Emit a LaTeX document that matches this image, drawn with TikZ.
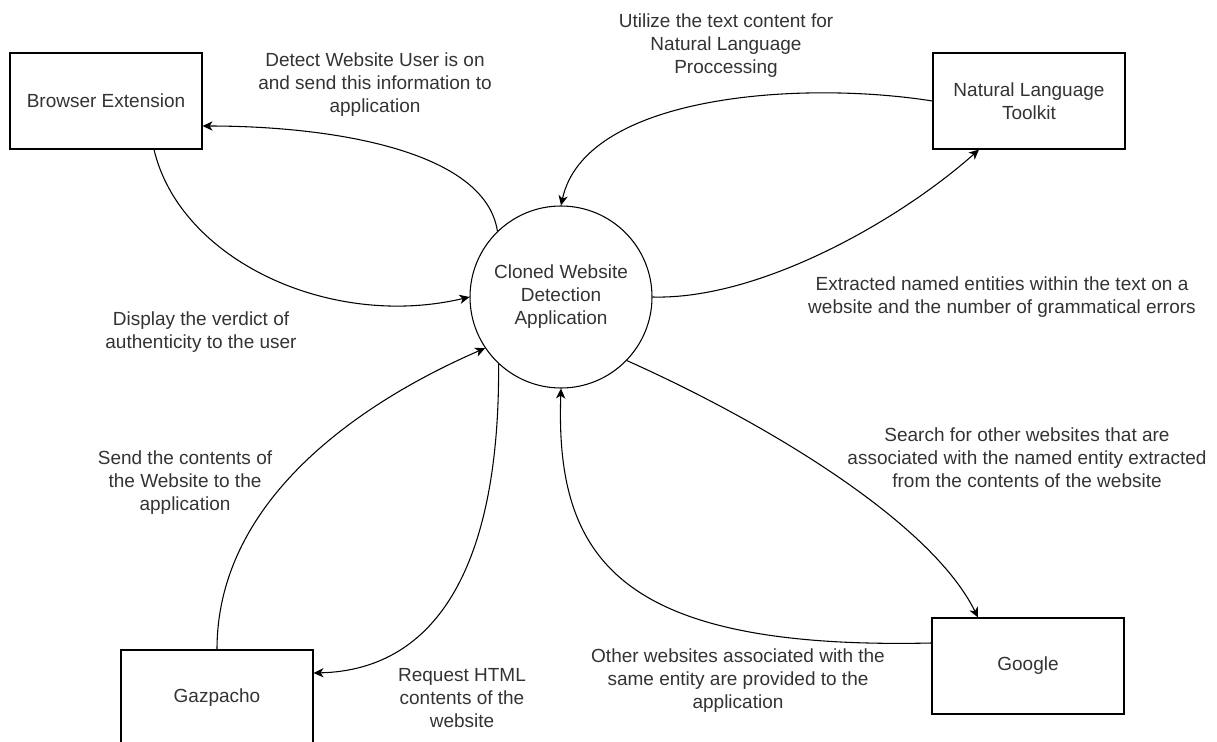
\documentclass[tikz,border=0pt]{standalone}
\usepackage{fontspec}
\setmainfont{Liberation Sans}
\usetikzlibrary{arrows.meta}

\begin{document}
\begin{tikzpicture}[x=0.75pt,y=-0.75pt,
    f/.style={-{Stealth[length=7.5pt,width=7pt,inset=2.2pt]},line width=0.8pt},%
    s/.style={draw,circle,line width=0.8pt,minimum size=136.5pt,inner sep=0pt,align=center},%
    ent/.style={draw,line width=0.8pt,minimum width=144pt,minimum height=72pt,align=center},%
    lab/.style={align=center,inner sep=0pt},%
    font=\fontsize{14.25}{17.25}\selectfont,text=black!80]
    \useasboundingbox (0,0) rectangle (1217,742);
    \node[s] (App) at (561,297) {Cloned Website\\Detection\\Application} ;
    \node[ent] (BE) at (106,101) {Browser Extension} ;
    \node[ent] (NLT) at (1029,101) {Natural Language\\Toolkit} ;
    \node[ent] (Gaz) at (217,698) {Gazpacho} ;
    \node[ent] (Goo) at (1028,666) {Google} ;

    \draw[f] (App.134) .. controls (485,150) and (330,126) .. ([yshift=-18.75pt]BE.east) ;
    \draw[f] ([xshift=36pt]BE.south) .. controls (180,260) and (330,330) .. (App.180) ;
    \draw[f] (NLT.west) .. controls (800,80) and (585,95) .. (App.90) ;
    \draw[f] (App.0) .. controls (760,300) and (900,220) .. ([xshift=-37.5pt]NLT.south) ;
    \draw[f] (Gaz.north) .. controls (217,480) and (400,385) .. (App.214) ;
    \draw[f] (App.227) .. controls (500,560) and (440,670) .. ([yshift=18.75pt]Gaz.east) ;
    \draw[f] (App.316) .. controls (760,420) and (930,520) .. ([xshift=-37.5pt]Goo.north) ;
    \draw[f] ([yshift=17.25pt]Goo.west) .. controls (620,650) and (555,560) .. (App.270) ;

    \node[lab] (lDetect) at (375,85) {Detect Website User is on\\and send this information to\\application} ;
    \node[lab] (lDisplay) at (201,332) {Display the verdict of\\authenticity to the user} ;
    \node[lab] (lUtil) at (726,46) {Utilize the text content for\\Natural Language\\Proccessing} ;
    \node[lab] (lExtr) at (1002,297) {Extracted named entities within the text on a\\website and the number of grammatical errors} ;
    \node[lab] (lSend) at (185,483) {Send the contents of\\the Website to the\\application} ;
    \node[lab] (lReq) at (462,698) {Request HTML\\contents of the\\website} ;
    \node[lab] (lSearch) at (1027,458) {Search for other websites that are\\associated with the named entity extracted\\from the contents of the website} ;
    \node[lab] (lOther) at (738,681) {Other websites associated with the\\same entity are provided to the\\application} ;
\end{tikzpicture}
\end{document}
